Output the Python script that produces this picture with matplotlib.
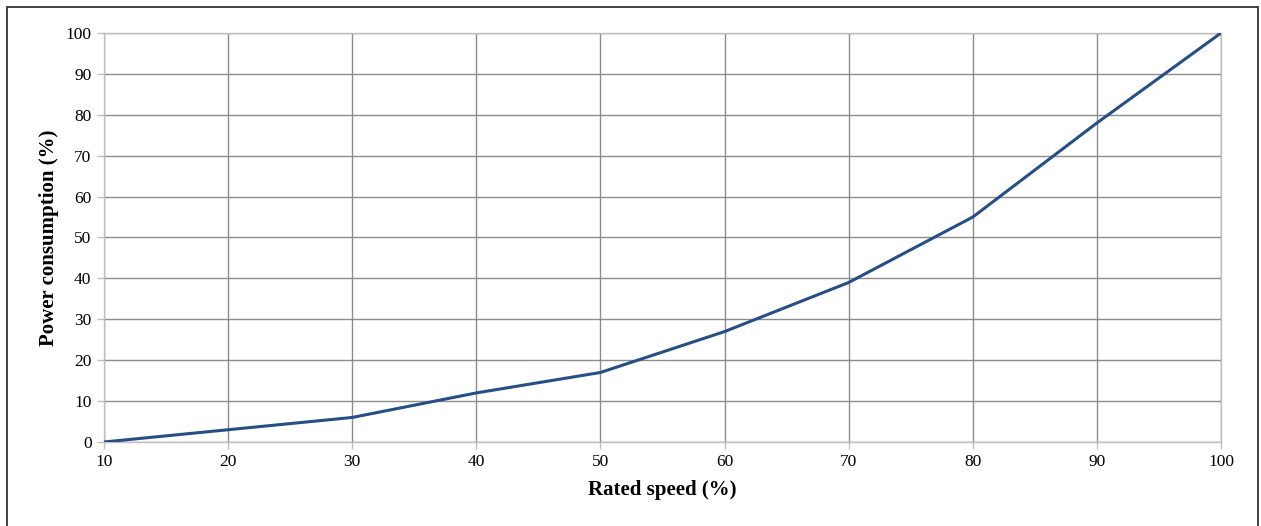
import matplotlib
matplotlib.use("Agg")
import matplotlib.pyplot as plt
from matplotlib.patches import Rectangle

# Power consumption vs. rated speed
rated_speed = [10, 20, 30, 40, 50, 60, 70, 80, 90, 100]
power_consumption = [0, 3, 6, 12, 17, 27, 39, 55, 78, 100]
x_ticks = [10, 20, 30, 40, 50, 60, 70, 80, 90, 100]
y_ticks = [0, 10, 20, 30, 40, 50, 60, 70, 80, 90, 100]

plt.rcParams["font.family"] = ["Liberation Serif", "DejaVu Serif"]

fig = plt.figure(figsize=(12.61, 5.26), dpi=100)
ax = fig.add_axes([104 / 1261, 1 - 442 / 526, (1221 - 104) / 1261, (442 - 33) / 526])

ax.plot(rated_speed, power_consumption, color="#254f85", linewidth=2.2,
        solid_joinstyle="miter", zorder=3)

ax.set_xlim(10, 100)
ax.set_ylim(0, 100)
ax.set_xticks(x_ticks)
ax.set_yticks(y_ticks)
ax.tick_params(axis="both", labelsize=12.5, colors="#bfbfbf", labelcolor="black",
               length=5, width=1, direction="out")
ax.tick_params(axis="x", pad=4)
ax.tick_params(axis="y", pad=4)

ax.grid(True, color="#8c8c8c", linewidth=1.0, zorder=1)
for side in ("left", "bottom", "right", "top"):
    ax.spines[side].set_color("#bfbfbf")
    ax.spines[side].set_linewidth(1.0)

ax.set_xlabel("Rated speed (%)", fontsize=15, fontweight="bold", labelpad=7)
ax.set_ylabel("Power consumption (%)", fontsize=15, fontweight="bold", labelpad=5)

# Outer frame around the figure
fig.patches.append(Rectangle((7 / 1261, -0.01), (1258 - 7) / 1261, 1 - 6.5 / 526 + 0.01,
                             transform=fig.transFigure, fill=False,
                             edgecolor="#333333", linewidth=1.3))

fig.savefig("out.png", dpi=100)
